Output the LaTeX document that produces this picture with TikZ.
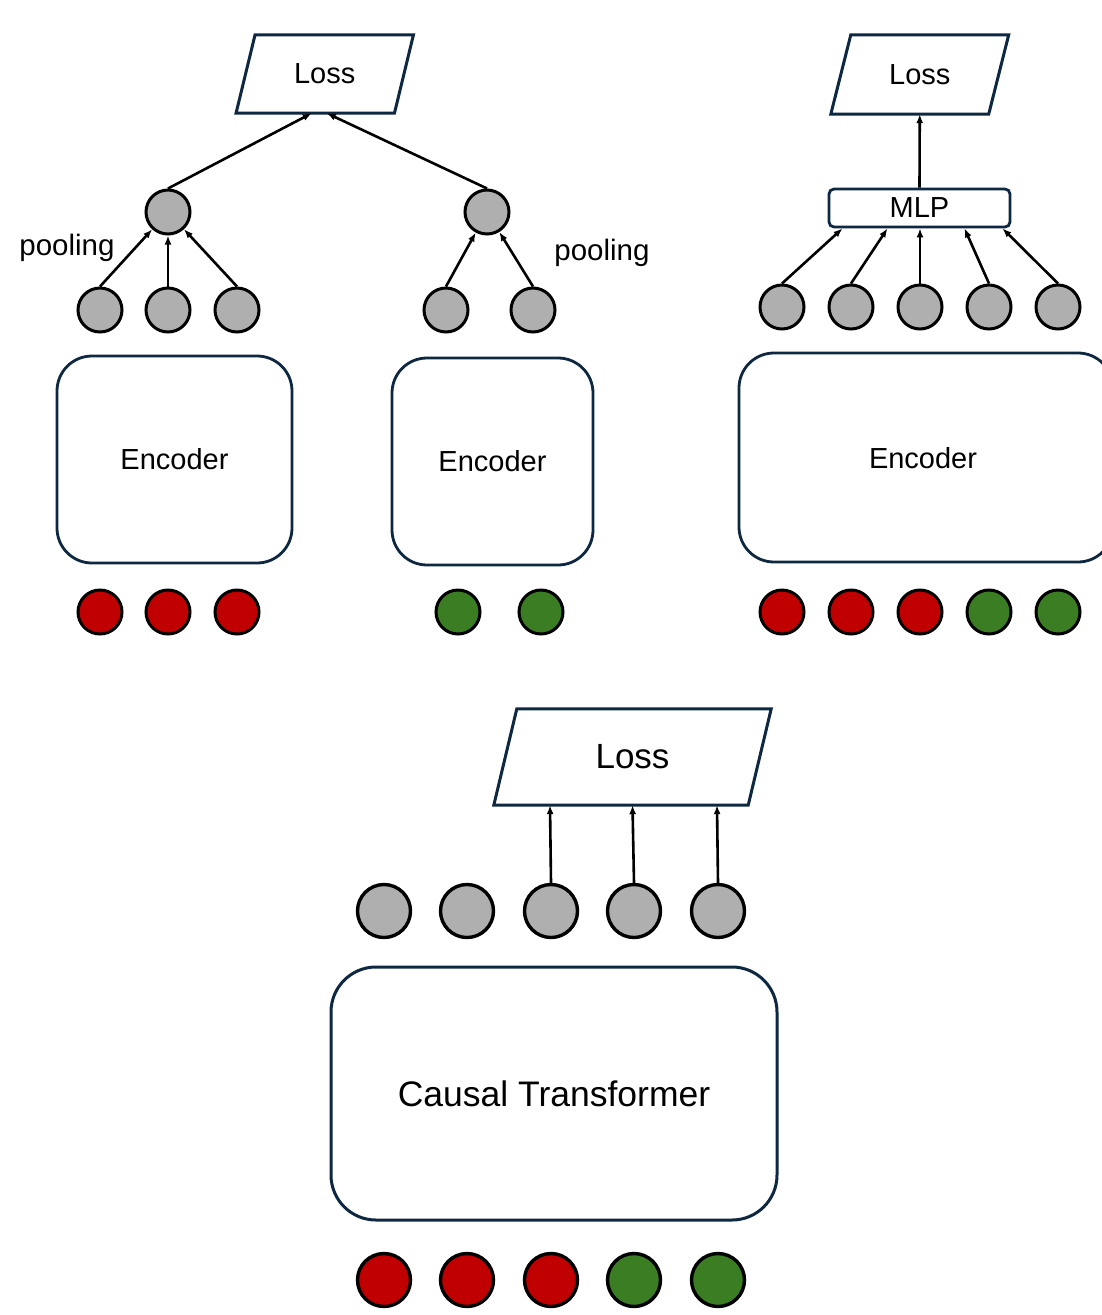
\documentclass[tikz,border=0pt]{standalone}
\usepackage{fontspec}
\setmainfont{Liberation Sans}
\usetikzlibrary{arrows.meta}
\definecolor{navy}{HTML}{0E2841}
\definecolor{dotgray}{HTML}{AFAFAF}
\definecolor{dotred}{HTML}{C00000}
\definecolor{dotgreen}{HTML}{3A7D22}
\begin{document}
\begin{tikzpicture}[x=1pt,y=-1pt,
  dot/.style={circle,draw=black,line width=3pt,minimum size=44pt,inner sep=0pt},
  bigdot/.style={circle,draw=black,line width=3.4pt,minimum size=53pt,inner sep=0pt},
  graydot/.style={fill=dotgray},
  reddot/.style={fill=dotred},
  greendot/.style={fill=dotgreen},
  encbox/.style={draw=navy,line width=2.8pt,rounded corners=35pt,inner sep=0pt,font=\fontsize{29}{34}\selectfont},
  losslabel/.style={inner sep=0pt,font=\fontsize{29}{34}\selectfont},
  para/.style={draw=navy,line width=3pt,line join=miter},
  arr/.style={line width=2.6pt,-{Latex[length=9pt,width=7pt]}},
  lbl/.style={inner sep=0pt,font=\fontsize{29.5}{34}\selectfont}
]
\clip (0,0) rectangle (1102,1315);
\fill[white] (0,0) rectangle (1102,1315);

% ---------- Panel 1 (left, two encoders) ----------
\node[losslabel,minimum width=158pt,minimum height=78pt] (loss1) at (324.75,74) {Loss};
\draw[para] ([xshift=9.5pt]loss1.north west) -- ([xshift=9.5pt]loss1.north east)
  -- ([xshift=-9.5pt]loss1.south east) -- ([xshift=-9.5pt]loss1.south west) -- cycle;

\node[dot,graydot] (p1) at (168,212) {};
\node[dot,graydot] (p2) at (487,212) {};

\node[dot,graydot] (a1) at (100,310) {};
\node[dot,graydot] (a2) at (168,310) {};
\node[dot,graydot] (a3) at (237,310) {};
\node[dot,graydot] (b1) at (446,310) {};
\node[dot,graydot] (b2) at (533,310) {};

\node[encbox,minimum width=235pt,minimum height=207pt] (enc1) at (174.5,459.5) {Encoder};
\node[encbox,minimum width=201pt,minimum height=207pt] (enc2) at (492.5,461.5) {Encoder};

\node[dot,reddot] (r1) at (100,612) {};
\node[dot,reddot] (r2) at (168,612) {};
\node[dot,reddot] (r3) at (237,612) {};
\node[dot,greendot] (g1) at (458,612) {};
\node[dot,greendot] (g2) at (541,612) {};

\draw[arr] (a1.north) -- (p1);
\draw[arr] (a2.north) -- (p1);
\draw[arr] (a3.north) -- (p1);
\draw[arr] (b1.north) -- (p2);
\draw[arr] (b2.north) -- (p2);
\draw[arr] (p1.north) -- ([xshift=-13pt]loss1.south);
\draw[arr] (p2.north) -- ([xshift=2pt]loss1.south);

\node[lbl] (pool1) at (67,248) {pooling};
\node[lbl] (pool2) at (602,253) {pooling};

% ---------- Panel 2 (right, MLP) ----------
\node[losslabel,minimum width=157.5pt,minimum height=79pt] (loss2) at (919.75,74.5) {Loss};
\draw[para] ([xshift=10pt]loss2.north west) -- ([xshift=10pt]loss2.north east)
  -- ([xshift=-10pt]loss2.south east) -- ([xshift=-10pt]loss2.south west) -- cycle;

\node[draw=navy,line width=2.8pt,rounded corners=5pt,minimum width=181pt,minimum height=38pt,inner sep=0pt,font=\fontsize{29}{34}\selectfont] (mlp) at (919.5,208) {MLP};

\node[dot,graydot] (m1) at (782,307) {};
\node[dot,graydot] (m2) at (851,307) {};
\node[dot,graydot] (m3) at (920,307) {};
\node[dot,graydot] (m4) at (989,307) {};
\node[dot,graydot] (m5) at (1058,307) {};

\node[encbox,minimum width=374pt,minimum height=209pt] (enc3) at (926,457.5) {};
\node[inner sep=0pt,font=\fontsize{29}{34}\selectfont] (enc3t) at (923,458) {Encoder};

\node[dot,reddot] (s1) at (782,612) {};
\node[dot,reddot] (s2) at (851,612) {};
\node[dot,reddot] (s3) at (920,612) {};
\node[dot,greendot] (s4) at (989,612) {};
\node[dot,greendot] (s5) at (1058,612) {};

\draw[arr] (m1.north) -- ([xshift=-77pt]mlp.south);
\draw[arr] (m2.north) -- ([xshift=-32pt]mlp.south);
\draw[arr] (m3.north) -- ([xshift=0.5pt]mlp.south);
\draw[arr] (m4.north) -- ([xshift=45pt]mlp.south);
\draw[arr] (m5.north) -- ([xshift=83pt]mlp.south);
\draw[arr] (mlp.north) -- (loss2.south);

% ---------- Panel 3 (bottom, causal transformer) ----------
\node[inner sep=0pt,font=\fontsize{35}{40}\selectfont,minimum width=254pt,minimum height=96pt] (loss3) at (632.5,757) {Loss};
\draw[para] ([xshift=11.5pt]loss3.north west) -- ([xshift=11.5pt]loss3.north east)
  -- ([xshift=-11.5pt]loss3.south east) -- ([xshift=-11.5pt]loss3.south west) -- cycle;

\node[bigdot,graydot] (c1) at (384,911) {};
\node[bigdot,graydot] (c2) at (467,911) {};
\node[bigdot,graydot] (c3) at (551,911) {};
\node[bigdot,graydot] (c4) at (634,911) {};
\node[bigdot,graydot] (c5) at (718,911) {};

\node[draw=navy,line width=3pt,rounded corners=45pt,minimum width=446pt,minimum height=253pt,inner sep=0pt,font=\fontsize{35.5}{40}\selectfont] (ct) at (554,1093.5) {Causal Transformer};

\node[bigdot,reddot] (d1) at (384,1280) {};
\node[bigdot,reddot] (d2) at (467,1280) {};
\node[bigdot,reddot] (d3) at (551,1280) {};
\node[bigdot,greendot] (d4) at (634,1280) {};
\node[bigdot,greendot] (d5) at (718,1280) {};

\draw[arr] (c3.north) -- ([xshift=-82.5pt]loss3.south);
\draw[arr] (c4.north) -- ([xshift=0pt]loss3.south);
\draw[arr] (c5.north) -- ([xshift=84.5pt]loss3.south);
\end{tikzpicture}
\end{document}
